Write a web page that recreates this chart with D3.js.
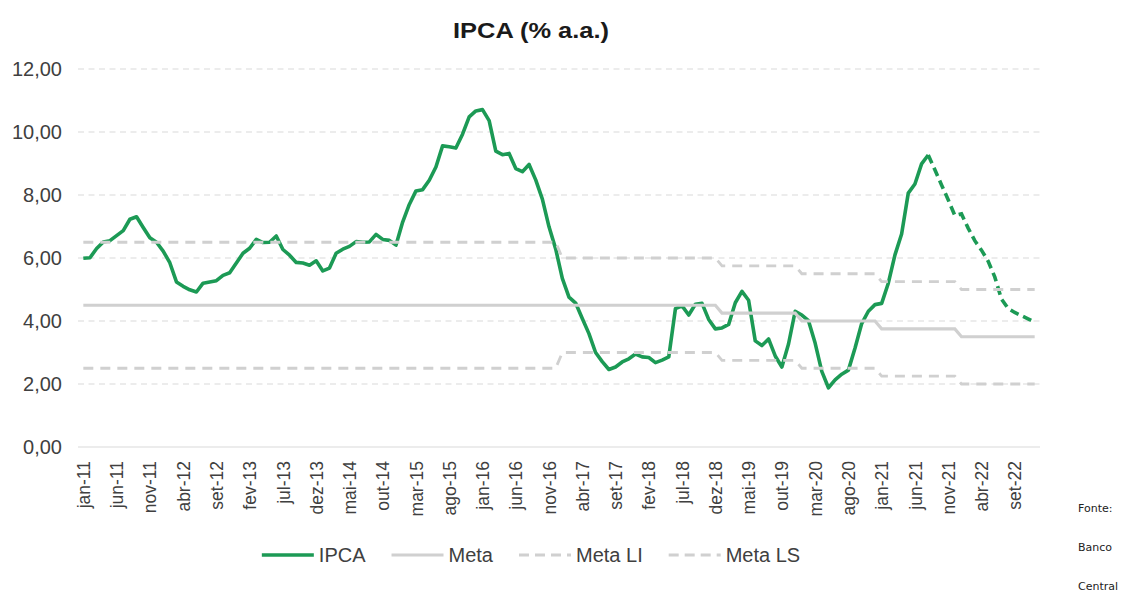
<!DOCTYPE html>
<html>
<head>
<meta charset="utf-8">
<script src="https://cdn.jsdelivr.net/npm/d3@7"></script>
<style>
body { margin: 0; background: #fff; }
svg { font-family: "Liberation Sans", Arial, sans-serif; }
</style>
</head>
<body>
<div id="chart"></div>
<script>
/* global d3 */
var monthNames = ["jan", "fev", "mar", "abr", "mai", "jun", "jul", "ago", "set", "out", "nov", "dez"];
var yearLabels = ["11", "12", "13", "14", "15", "16", "17", "18", "19", "20", "21", "22"];

// IPCA 12 meses, jan-11 .. ago-21 (realizado)
var ipcaHist = [
	5.99, 6.01, 6.30, 6.51, 6.55, 6.71, 6.87, 7.23, 7.31, 6.97, 6.64, 6.50,
	6.22, 5.85, 5.24, 5.10, 4.99, 4.92, 5.20, 5.24, 5.28, 5.45, 5.53, 5.84,
	6.15, 6.31, 6.59, 6.49, 6.50, 6.70, 6.27, 6.09, 5.86, 5.84, 5.77, 5.91,
	5.59, 5.68, 6.15, 6.28, 6.37, 6.52, 6.50, 6.51, 6.75, 6.59, 6.56, 6.41,
	7.14, 7.70, 8.13, 8.17, 8.47, 8.89, 9.56, 9.53, 9.49, 9.93, 10.48, 10.67,
	10.71, 10.36, 9.39, 9.28, 9.32, 8.84, 8.74, 8.97, 8.48, 7.87, 6.99, 6.29,
	5.35, 4.76, 4.57, 4.08, 3.60, 3.00, 2.71, 2.46, 2.54, 2.70, 2.80, 2.95,
	2.86, 2.84, 2.68, 2.76, 2.86, 4.39, 4.48, 4.19, 4.53, 4.56, 4.05, 3.75,
	3.78, 3.89, 4.58, 4.94, 4.66, 3.37, 3.22, 3.43, 2.89, 2.54, 3.27, 4.31,
	4.19, 4.01, 3.30, 2.40, 1.88, 2.13, 2.31, 2.44, 3.14, 3.92, 4.31, 4.52,
	4.56, 5.20, 6.10, 6.76, 8.06, 8.35, 8.99, 9.27
];
// projecao, ago-21 .. dez-22
var ipcaProj = [9.27, 8.80, 8.32, 7.85, 7.35, 7.40, 6.95, 6.55, 6.25, 5.90, 5.40, 4.70, 4.40, 4.27, 4.17, 4.07, 3.97];

// meta e limites por ano (2011..2022)
var metaYear = [4.5, 4.5, 4.5, 4.5, 4.5, 4.5, 4.5, 4.5, 4.25, 4.0, 3.75, 3.5];
var metaLIYear = [2.5, 2.5, 2.5, 2.5, 2.5, 2.5, 3.0, 3.0, 2.75, 2.5, 2.25, 2.0];
var metaLSYear = [6.5, 6.5, 6.5, 6.5, 6.5, 6.5, 6.0, 6.0, 5.75, 5.5, 5.25, 5.0];

var yTicks = [0, 2, 4, 6, 8, 10, 12];

var months = [];
var metaRows = [];
for (var i = 0; i < yearLabels.length; i++) {
	for (var j = 0; j < monthNames.length; j++) {
		var m = monthNames[j] + "-" + yearLabels[i];
		months.push(m);
		metaRows.push({ m: m, meta: metaYear[i], li: metaLIYear[i], ls: metaLSYear[i] });
	}
}
var histRows = ipcaHist.map(function(v, i) { return { m: months[i], v: v }; });
var projStart = ipcaHist.length - 1;
var projRows = ipcaProj.map(function(v, i) { return { m: months[projStart + i], v: v }; });
var tickMonths = months.filter(function(d, i) { return i % 5 === 0; });

var width = 1121, height = 592;
var green = "#1c9a55", grey = "#d0d0d0", textColor = "#404040";

var svg = d3.select("#chart").append("svg").attr("width", width).attr("height", height);

var x = d3.scalePoint().domain(months).range([80, 1038]).padding(0.5);
var y = d3.scaleLinear().domain([0, 12]).range([447, 69]);

svg.append("text").attr("x", 531).attr("y", 38).attr("text-anchor", "middle")
	.attr("textLength", 156).attr("lengthAdjust", "spacingAndGlyphs")
	.style("font-size", "22px").style("font-weight", "bold").style("fill", "#1a1a1a")
	.text("IPCA (% a.a.)");

// grade
svg.append("g").selectAll("line").data(yTicks.filter(function(d) { return d > 0; })).enter()
	.append("line").attr("x1", 78).attr("x2", 1040)
	.attr("y1", function(d) { return y(d); }).attr("y2", function(d) { return y(d); })
	.style("stroke", "#d9d9d9").style("stroke-width", 1).style("stroke-dasharray", "6,4.5");
svg.append("line").attr("x1", 78).attr("x2", 1040).attr("y1", y(0)).attr("y2", y(0))
	.style("stroke", "#d9d9d9").style("stroke-width", 1.2);

var yAxis = d3.axisLeft(y).tickValues(yTicks).tickSize(0).tickPadding(16)
	.tickFormat(function(d) { return d3.format(".2f")(d).replace(".", ","); });
var gy = svg.append("g").attr("transform", "translate(78,0)").call(yAxis);
gy.select(".domain").remove();
gy.selectAll("text").style("font-size", "20px").style("fill", textColor)
	.style("font-family", "'Liberation Sans', Arial, sans-serif");

var xAxis = d3.axisBottom(x).tickValues(tickMonths).tickSize(0);
var gx = svg.append("g").attr("transform", "translate(0," + y(0) + ")").call(xAxis);
gx.select(".domain").remove();
gx.selectAll("text").attr("transform", "rotate(-90)").attr("text-anchor", "end")
	.attr("x", -14).attr("y", 0).attr("dy", "0.35em")
	.style("font-size", "17.5px").style("fill", textColor)
	.style("font-family", "'Liberation Sans', Arial, sans-serif");

var line = d3.line()
	.x(function(d) { return x(d.m); })
	.y(function(d) { return y(d.v); });

svg.append("path").datum(histRows).attr("d", line)
	.style("fill", "none").style("stroke", green).style("stroke-width", 3.6)
	.style("stroke-linejoin", "round");
svg.append("path").datum(projRows).attr("d", line)
	.style("fill", "none").style("stroke", green).style("stroke-width", 3.6)
	.style("stroke-dasharray", "9,5");

function metaLine(key) {
	return d3.line()
		.x(function(d) { return x(d.m); })
		.y(function(d) { return y(d[key]); });
}
svg.append("path").datum(metaRows).attr("d", metaLine("meta"))
	.style("fill", "none").style("stroke", grey).style("stroke-width", 3.2);
svg.append("path").datum(metaRows).attr("d", metaLine("li"))
	.style("fill", "none").style("stroke", grey).style("stroke-width", 2.8)
	.style("stroke-dasharray", "10,7");
svg.append("path").datum(metaRows).attr("d", metaLine("ls"))
	.style("fill", "none").style("stroke", grey).style("stroke-width", 2.8)
	.style("stroke-dasharray", "10,7");

// legenda
var legendItems = [
	{ label: "IPCA", color: green, w: 3.6, dash: null },
	{ label: "Meta", color: grey, w: 3.2, dash: null },
	{ label: "Meta LI", color: grey, w: 2.8, dash: "10,6" },
	{ label: "Meta LS", color: grey, w: 2.8, dash: "10,6" }
];
var legend = svg.append("g");
var lx = 0;
legendItems.forEach(function(d) {
	legend.append("line").attr("x1", lx).attr("x2", lx + 52).attr("y1", 0).attr("y2", 0)
		.style("stroke", d.color).style("stroke-width", d.w)
		.style("stroke-dasharray", d.dash);
	var t = legend.append("text").attr("x", lx + 57).attr("y", 0).attr("dy", "0.35em")
		.style("font-size", "20px").style("fill", textColor).text(d.label);
	lx += 57 + t.node().getComputedTextLength() + 26;
});
lx -= 26;
legend.attr("transform", "translate(" + (531 - lx / 2) + ",555)");

var fonte = ["Fonte:", "Banco", "Central"];
svg.append("g").selectAll("text").data(fonte).enter().append("text")
	.attr("x", 1078).attr("y", function(d, i) { return 512 + i * 39; })
	.style("font-family", "'DejaVu Sans', Tahoma, sans-serif").style("font-size", "11px")
	.style("fill", "#222").text(function(d) { return d; });
</script>
</body>
</html>
